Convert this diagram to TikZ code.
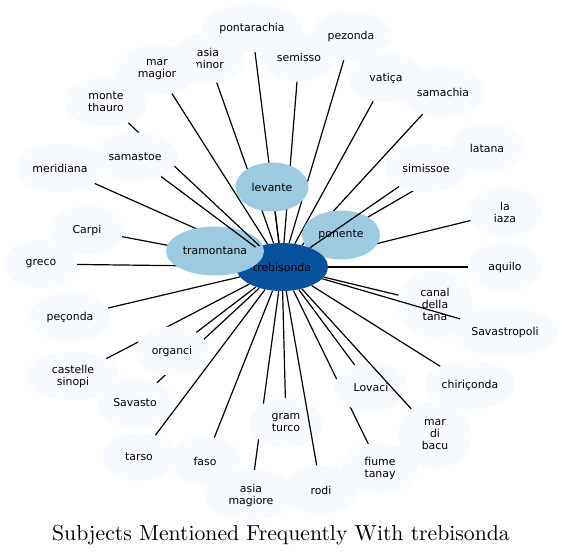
\documentclass[tikz,border=0pt]{standalone}
\usepackage{fontspec}
\newfontfamily\labelfont{DejaVu Sans}
\newfontfamily\titlefont{lmroman10-regular.otf}
\usetikzlibrary{shapes.geometric}
\definecolor{termfill}{HTML}{F7FBFF}
\definecolor{windfill}{HTML}{9ECAE1}
\definecolor{hubfill}{HTML}{08519C}
\pgfdeclarelayer{edges}
\pgfsetlayers{edges,main}
\tikzset{
  term/.style={ellipse, fill=termfill, inner sep=0pt, minimum width=73pt, minimum height=49pt,
    align=center, font=\labelfont\fontsize{10.9}{12}\selectfont},
  wind/.style={term, fill=windfill},
  hub/.style={term, fill=hubfill},
  link/.style={line width=1.2pt}
}

\begin{document}
\begin{tikzpicture}[x=1pt, y=-1pt]
  \useasboundingbox (0,0) rectangle (562,556);

  % Subjects
  \node[term, minimum width=101pt, minimum height=48pt] (pontarachia) at (252,28) {pontarachia};
  \node[term, minimum width=81pt] (pezonda) at (351,36) {pezonda};
  \node[term, minimum width=74pt] (semisso) at (299,57) {semisso};
  \node[term, minimum height=50pt] (asiaminor) at (208,58) {asia\\minor};
  \node[term, minimum width=82pt, minimum height=50pt] (marmagior) at (157,70) {mar\\magior};
  \node[term, minimum width=84pt, minimum height=50pt] (samachia) at (443,92) {samachia};
  \node[term, minimum width=75pt] (vatica) at (386,78) {vatiça};
  \node[term, minimum width=84pt] (montethauro) at (106,102) {monte\\thauro};
  \node[term, minimum width=72pt] (latana) at (487,148) {latana};
  \node[term, minimum width=81pt] (simissoe) at (426,168) {simissoe};
  \node[term, minimum width=88pt] (meridiana) at (60,168) {meridiana};
  \node[wind] (levante) at (272,187) {levante};
  \node[term, minimum height=50pt] (laiaza) at (505,212) {la\\iaza};
  \node[term, minimum width=72pt] (carpi) at (87,230) {Carpi};
  \node[term, minimum width=72pt] (greco) at (41,264) {greco};
  \node[term] (aquilo) at (505,267) {aquilo};
  \node[term, minimum width=75pt, minimum height=67pt] (canal) at (435,304) {canal\\della\\tana};
  \node[term, minimum width=105pt] (savastropoli) at (505,332) {Savastropoli};
  \node[term, minimum width=81pt] (peconda) at (70,317) {peçonda};
  \node[term, minimum width=93pt] (castelle) at (73,376) {castelle\\sinopi};
  \node[term, minimum width=76pt] (savasto) at (135,403) {Savasto};
  \node[term] (organci) at (172,351) {organci};
  \node[term, minimum width=90pt] (chiriconda) at (470,385) {chiriçonda};
  \node[term] (lovaci) at (371,387) {Lovaci};
  \node[term, minimum height=68pt] (marbacu) at (435,435) {mar\\di\\bacu};
  \node[term] (gramturco) at (286,423) {gram\\turco};
  \node[term, minimum height=48pt] (tarso) at (139,457) {tarso};
  \node[term, minimum width=71pt, minimum height=48pt] (faso) at (205,461) {faso};
  \node[term, minimum width=76pt, minimum height=50pt] (fiume) at (380,468) {fiume\\tanay};
  \node[term, minimum width=71pt] (rodi) at (321,490) {rodi};
  \node[term, minimum width=92pt, minimum height=50pt] (asiamagiore) at (251,495) {asia\\magiore};
  \node[wind, minimum width=78pt] (ponente) at (341,235) {ponente};
  \node[hub, minimum width=92pt, minimum height=48pt] (treb) at (282,267) {trebisonda};
  \node[wind, minimum width=98pt] (tramontana) at (215,251) {tramontana};
  \draw[link] (treb) -- (montethauro);
  \node[term, minimum width=85pt] (samastoe) at (135,157) {samastoe};

  % Edges
  \begin{pgfonlayer}{edges}
    \draw[link] (treb) -- (pontarachia);
    \draw[link] (treb) -- (pezonda);
    \draw[link] (treb) -- (semisso);
    \draw[link] (treb) -- (asiaminor);
    \draw[link] (treb) -- (marmagior);
    \draw[link] (treb) -- (samachia);
    \draw[link] (treb) -- (vatica);
    \draw[link] (treb) -- (latana);
    \draw[link] (treb) -- (meridiana);
    \draw[link] (treb) -- (levante);
    \draw[link] (treb) -- (laiaza);
    \draw[link] (treb) -- (carpi);
    \draw[link] (treb) -- (greco);
    \draw[link] (treb) -- (aquilo);
    \draw[link] (treb) -- (canal);
    \draw[link] (treb) -- (peconda);
    \draw[link] (treb) -- (castelle);
    \draw[link] (treb) -- (savasto);
    \draw[link] (treb) -- (organci);
    \draw[link] (treb) -- (chiriconda);
    \draw[link] (treb) -- (lovaci);
    \draw[link] (treb) -- (gramturco);
    \draw[link] (treb) -- (tarso);
    \draw[link] (treb) -- (faso);
    \draw[link] (treb) -- (fiume);
    \draw[link] (treb) -- (asiamagiore);
    \draw[link] (treb) -- (ponente);
    \draw[link] (treb) -- (tramontana);
  \end{pgfonlayer}
  \draw[link] (treb) -- (samastoe);
  \draw[link] (treb) -- (simissoe);
  \draw[link] (treb) -- (savastropoli);
  \draw[link] (treb) -- (marbacu);
  \draw[link] (treb) -- (rodi);

  \node[anchor=base, font=\titlefont\fontsize{21.7}{26}\selectfont] (title) at (281,540)
    {Subjects Mentioned Frequently With trebisonda};
\end{tikzpicture}
\end{document}
